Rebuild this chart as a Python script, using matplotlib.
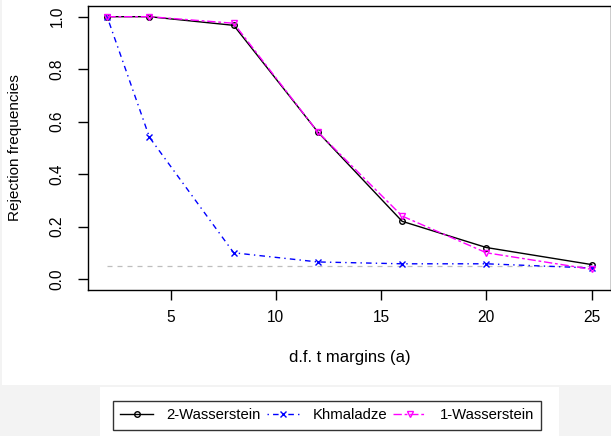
import matplotlib
matplotlib.use('Agg')
import matplotlib.pyplot as plt
from matplotlib.patches import Rectangle

# values
df_margins = [2, 4, 8, 12, 16, 20, 25]
wass2 = [1.0, 1.0, 0.967, 0.56, 0.22, 0.12, 0.055]
khmaladze = [0.997, 0.54, 0.10, 0.065, 0.058, 0.058, 0.042]
wass1 = [1.0, 1.0, 0.975, 0.56, 0.24, 0.10, 0.037]
level = 0.05

plt.rcParams['font.family'] = ['Liberation Sans', 'DejaVu Sans']

fig = plt.figure(figsize=(6.11, 4.36), dpi=100)
fig.patch.set_facecolor('#f3f3f3')
# white plot area and white patch behind the legend
fig.add_artist(Rectangle((2 / 611, (436 - 385) / 436), 609 / 611, 385 / 436,
                         transform=fig.transFigure, facecolor='white', edgecolor='none', zorder=0))
fig.add_artist(Rectangle((100 / 611, 0), 459 / 611, (436 - 387) / 436,
                         transform=fig.transFigure, facecolor='white', edgecolor='none', zorder=0))

ax = fig.add_axes([88 / 611, (436 - 289.5) / 436, (611 - 88) / 611, (289.5 - 6.2) / 436])

ax.plot([df_margins[0], df_margins[-1]], [level, level], color='#bebebe', lw=0.9,
        dashes=(4, 4))
ax.plot(df_margins, wass2, color='black', lw=1, marker='o', ms=4,
        mfc='none', mew=1, label='2-Wasserstein')
ax.plot(df_margins, khmaladze, color='#0000ff', lw=1, dashes=(1, 3, 4, 3),
        marker='x', ms=4, mew=1, label='Khmaladze')
ax.plot(df_margins, wass1, color='#ff00ff', lw=1, dashes=(6, 2, 2, 2),
        marker='v', ms=4.5, mfc='none', mew=1, label='1-Wasserstein')

ax.set_xlim(1.08, 25.92)
ax.set_ylim(-0.04, 1.04)
ax.set_xticks([5, 10, 15, 20, 25])
ax.set_yticks([0.0, 0.2, 0.4, 0.6, 0.8, 1.0])
ax.set_yticklabels(['0.0', '0.2', '0.4', '0.6', '0.8', '1.0'], rotation=90, va='center')
ax.tick_params(direction='out', length=7, width=1, labelsize=11.2)
ax.tick_params(axis='y', pad=10)
ax.tick_params(axis='x', pad=8)
for s in ax.spines.values():
    s.set_linewidth(1)
ax.set_xlabel('d.f. t margins (a)', fontsize=12, labelpad=18)
ax.set_ylabel('Rejection frequencies', fontsize=11, labelpad=20)

leg = fig.legend(loc='upper left', bbox_to_anchor=(113 / 611, (436 - 401) / 436),
                 ncol=3, fontsize=10.7, frameon=True, fancybox=False,
                 handlelength=2.2, columnspacing=0.4, handletextpad=0.9,
                 borderaxespad=0, borderpad=0.5)
leg.get_frame().set_edgecolor('black')
leg.get_frame().set_linewidth(1)

fig.savefig('out.png', dpi=100, facecolor=fig.get_facecolor())
